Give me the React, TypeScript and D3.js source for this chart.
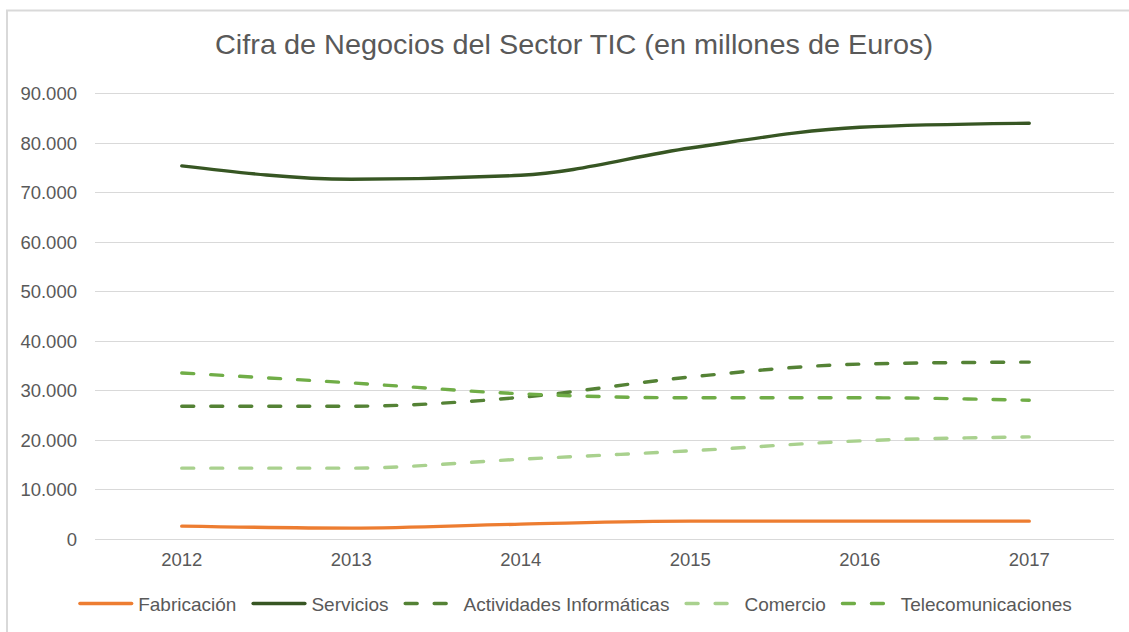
import React, { useEffect, useRef } from "react";
import * as d3 from "d3";

const years = ["2012", "2013", "2014", "2015", "2016", "2017"];
const yTicks = [0, 10000, 20000, 30000, 40000, 50000, 60000, 70000, 80000, 90000];
const fabricacion = [2600, 2200, 3000, 3600, 3600, 3600];
const servicios = [75300, 72600, 73400, 78900, 83100, 83900];
const actividades = [26800, 26800, 28600, 32700, 35300, 35700];
const comercio = [14300, 14300, 16100, 17800, 19800, 20600];
const telecom = [33500, 31500, 29300, 28500, 28500, 28000];

const seriesNames = ["Fabricación", "Servicios", "Actividades Informáticas", "Comercio", "Telecomunicaciones"];
const seriesValues = [fabricacion, servicios, actividades, comercio, telecom];
const seriesColors = ["#ED7D31", "#375623", "#548235", "#A9D18E", "#70AD47"];
const seriesDashed = [false, false, true, true, true];

const title = "Cifra de Negocios del Sector TIC (en millones de Euros)";

export default function App() {
  const ref = useRef<SVGSVGElement>(null);

  useEffect(() => {
    const svg = d3.select(ref.current);
    svg.selectAll("*").remove();
    const font = "'Liberation Sans', Arial, sans-serif";
    const textColor = "#595959";

    // chart border
    svg.append("rect").attr("x", 7).attr("y", 10.5).attr("width", 1140).attr("height", 640)
      .attr("fill", "#fff").attr("stroke", "#d9d9d9").attr("stroke-width", 2);

    const x = d3.scaleBand<string>().domain(years).range([97, 1114]);
    const y = d3.scaleLinear().domain([0, 90000]).range([539, 93]);
    const fmt = (v: number) => d3.format(",")(v).replace(/,/g, ".");

    // gridlines
    svg.append("g").selectAll("line").data(yTicks).join("line")
      .attr("x1", 95).attr("x2", 1114)
      .attr("y1", (d) => Math.round(y(d)) + 0.5).attr("y2", (d) => Math.round(y(d)) + 0.5)
      .attr("stroke", "#d9d9d9").attr("stroke-width", 1.2);

    // y tick labels
    svg.append("g").selectAll("text").data(yTicks).join("text")
      .attr("x", 77).attr("y", (d) => y(d) + 7)
      .attr("text-anchor", "end").attr("font-family", font).attr("font-size", 18.5)
      .attr("fill", textColor).text((d) => fmt(d));

    // x labels
    svg.append("g").selectAll("text").data(years).join("text")
      .attr("x", (d) => (x(d) as number) + x.bandwidth() / 2).attr("y", 566)
      .attr("text-anchor", "middle").attr("font-family", font).attr("font-size", 18.5)
      .attr("fill", textColor).text((d) => d);

    // lines
    const line = d3.line<number>()
      .x((_, i) => (x(years[i]) as number) + x.bandwidth() / 2)
      .y((d) => y(d))
      .curve(d3.curveMonotoneX);
    seriesValues.forEach((vals, i) => {
      svg.append("path").datum(vals).attr("d", line as any)
        .attr("fill", "none").attr("stroke", seriesColors[i]).attr("stroke-width", 3.4)
        .attr("stroke-linecap", "round").attr("stroke-linejoin", "round")
        .attr("stroke-dasharray", seriesDashed[i] ? "12,17" : null);
    });

    // title
    const t = svg.append("text").attr("x", 574).attr("y", 54).attr("text-anchor", "middle")
      .attr("font-family", font).attr("font-size", 28).attr("fill", textColor).text(title);
    const tw = (t.node() as SVGTextElement).getComputedTextLength();
    if (Math.abs(tw - 718) > 3) t.attr("textLength", 718).attr("lengthAdjust", "spacingAndGlyphs");

    // legend
    const lg = svg.append("g");
    const items: { g: any; w: number }[] = [];
    seriesNames.forEach((name, i) => {
      const g = lg.append("g");
      g.append("line").attr("x1", 1.7).attr("x2", 53.5).attr("y1", 603.5).attr("y2", 603.5)
        .attr("stroke", seriesColors[i]).attr("stroke-width", 3.4).attr("stroke-linecap", "round")
        .attr("stroke-dasharray", seriesDashed[i] ? "12,17" : null);
      const off = 60;
      const tx = g.append("text").attr("x", off).attr("y", 611)
        .attr("font-family", font).attr("font-size", 19).attr("fill", textColor).text(name);
      const w = off + (tx.node() as SVGTextElement).getComputedTextLength();
      items.push({ g, w });
    });
    const gap = 15;
    const total = items.reduce((s, it) => s + it.w, 0) + gap * (items.length - 1);
    let cx = 575 - total / 2;
    items.forEach((it) => {
      it.g.attr("transform", `translate(${cx},0)`);
      cx += it.w + gap;
    });
  }, []);

  return (
    <svg ref={ref} width={1129} height={632}
      style={{ position: "absolute", left: 0, top: 0, background: "#fff" }} />
  );
}
